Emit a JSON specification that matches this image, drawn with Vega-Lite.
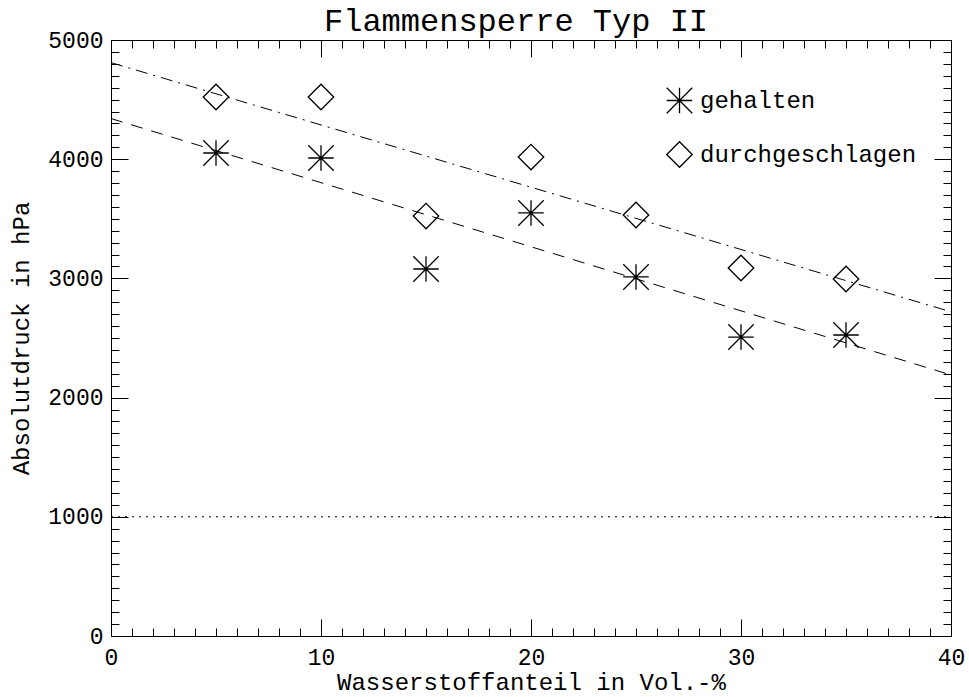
{
  "$schema": "https://vega.github.io/schema/vega-lite/v6.json",
  "width": 840,
  "height": 596,
  "autosize": "none",
  "padding": {"left": 111, "top": 40, "right": 18, "bottom": 61},
  "background": "white",
  "title": {
    "text": "Flammensperre Typ II",
    "font": "Liberation Mono",
    "fontSize": 32,
    "fontWeight": "normal",
    "color": "black",
    "offset": -9,
    "dx": -15
  },
  "config": {
    "view": {"stroke": "black", "strokeWidth": 1},
    "axis": {
      "grid": false,
      "domainColor": "black",
      "tickColor": "black",
      "labelColor": "black",
      "titleColor": "black",
      "labelFont": "Liberation Mono",
      "titleFont": "Liberation Mono",
      "labelFontSize": 23,
      "titleFontSize": 24,
      "titleFontWeight": "normal",
      "labelOverlap": false,
      "labelBound": false,
      "labelFlush": false
    }
  },
  "datasets": {
    "points": [
      {"h2": 5, "p": 4052, "Ergebnis": "gehalten"},
      {"h2": 10, "p": 4010, "Ergebnis": "gehalten"},
      {"h2": 15, "p": 3079, "Ergebnis": "gehalten"},
      {"h2": 20, "p": 3549, "Ergebnis": "gehalten"},
      {"h2": 25, "p": 3012, "Ergebnis": "gehalten"},
      {"h2": 30, "p": 2508, "Ergebnis": "gehalten"},
      {"h2": 35, "p": 2525, "Ergebnis": "gehalten"},
      {"h2": 5, "p": 4522, "Ergebnis": "durchgeschlagen"},
      {"h2": 10, "p": 4522, "Ergebnis": "durchgeschlagen"},
      {"h2": 15, "p": 3523, "Ergebnis": "durchgeschlagen"},
      {"h2": 20, "p": 4018, "Ergebnis": "durchgeschlagen"},
      {"h2": 25, "p": 3532, "Ergebnis": "durchgeschlagen"},
      {"h2": 30, "p": 3087, "Ergebnis": "durchgeschlagen"},
      {"h2": 35, "p": 2995, "Ergebnis": "durchgeschlagen"}
    ],
    "lines": [
      {"h2": 0, "p": 4341, "linie": "fit gehalten"},
      {"h2": 40, "p": 2190, "linie": "fit gehalten"},
      {"h2": 0, "p": 4810, "linie": "fit durchgeschlagen"},
      {"h2": 40, "p": 2720, "linie": "fit durchgeschlagen"},
      {"h2": 0, "p": 1000, "linie": "Atmosphaere"},
      {"h2": 40, "p": 1000, "linie": "Atmosphaere"}
    ]
  },
  "resolve": {"axis": {"x": "independent", "y": "independent"}},
  "layer": [
    {
      "data": {"name": "lines"},
      "mark": {"type": "line", "color": "black", "strokeWidth": 1},
      "encoding": {
        "x": {
          "field": "h2", "type": "quantitative",
          "scale": {"domain": [0, 40], "nice": false, "zero": false},
          "axis": {
            "orient": "top",
            "values": [0,1,2,3,4,5,6,7,8,9,10,11,12,13,14,15,16,17,18,19,20,21,22,23,24,25,26,27,28,29,30,31,32,33,34,35,36,37,38,39,40],
            "labels": false,
            "title": null,
            "tickSize": {"condition": {"test": "datum.value % 10 === 0", "value": -17}, "value": -8}
          }
        },
        "y": {
          "field": "p", "type": "quantitative",
          "scale": {"domain": [0, 5000], "nice": false, "zero": false},
          "axis": {
            "orient": "right",
            "values": [0,100,200,300,400,500,600,700,800,900,1000,1100,1200,1300,1400,1500,1600,1700,1800,1900,2000,2100,2200,2300,2400,2500,2600,2700,2800,2900,3000,3100,3200,3300,3400,3500,3600,3700,3800,3900,4000,4100,4200,4300,4400,4500,4600,4700,4800,4900,5000],
            "labels": false,
            "title": null,
            "tickSize": {"condition": {"test": "datum.value % 1000 === 0", "value": -17}, "value": -8}
          }
        },
        "detail": {"field": "linie", "type": "nominal"},
        "strokeDash": {
          "field": "linie", "type": "nominal",
          "scale": {
            "domain": ["fit gehalten", "fit durchgeschlagen", "Atmosphaere"],
            "range": [[12, 9], [12, 6, 2, 6], [2, 5]]
          },
          "legend": null
        }
      }
    },
    {
      "data": {"name": "points"},
      "mark": {"type": "point", "filled": false, "stroke": "black", "strokeWidth": 1.3, "opacity": 1},
      "encoding": {
        "x": {
          "field": "h2", "type": "quantitative",
          "scale": {"domain": [0, 40], "nice": false, "zero": false},
          "axis": {
            "orient": "bottom",
            "title": "Wasserstoffanteil in Vol.-%",
            "values": [0,1,2,3,4,5,6,7,8,9,10,11,12,13,14,15,16,17,18,19,20,21,22,23,24,25,26,27,28,29,30,31,32,33,34,35,36,37,38,39,40],
            "format": "d",
            "labelExpr": "datum.value % 10 === 0 ? datum.label : ''",
            "labelPadding": 27,
            "titlePadding": -8,
            "tickSize": {"condition": {"test": "datum.value % 10 === 0", "value": -17}, "value": -8}
          }
        },
        "y": {
          "field": "p", "type": "quantitative",
          "scale": {"domain": [0, 5000], "nice": false, "zero": false},
          "axis": {
            "orient": "left",
            "title": "Absolutdruck in hPa",
            "values": [0,100,200,300,400,500,600,700,800,900,1000,1100,1200,1300,1400,1500,1600,1700,1800,1900,2000,2100,2200,2300,2400,2500,2600,2700,2800,2900,3000,3100,3200,3300,3400,3500,3600,3700,3800,3900,4000,4100,4200,4300,4400,4500,4600,4700,4800,4900,5000],
            "format": "d",
            "labelExpr": "datum.value % 1000 === 0 ? datum.label : ''",
            "labelPadding": 25,
            "titlePadding": 14,
            "tickSize": {"condition": {"test": "datum.value % 1000 === 0", "value": -17}, "value": -8}
          }
        },
        "shape": {
          "field": "Ergebnis", "type": "nominal",
          "scale": {
            "domain": ["gehalten", "durchgeschlagen"],
            "range": ["M0,-1L0,1M-1,0L1,0M-1,-1L1,1M-1,1L1,-1", "diamond"]
          },
          "legend": {
            "title": null,
            "orient": "none",
            "legendX": 555,
            "legendY": 47,
            "padding": 0,
            "symbolSize": 650,
            "symbolStrokeColor": "black",
            "symbolFillColor": "transparent",
            "symbolStrokeWidth": 1.3,
            "labelFont": "Liberation Mono",
            "labelFontSize": 24,
            "labelColor": "black",
            "labelOffset": 7,
            "rowPadding": 23,
            "labelLimit": 400
          }
        },
        "size": {"value": 650}
      }
    }
  ]
}
